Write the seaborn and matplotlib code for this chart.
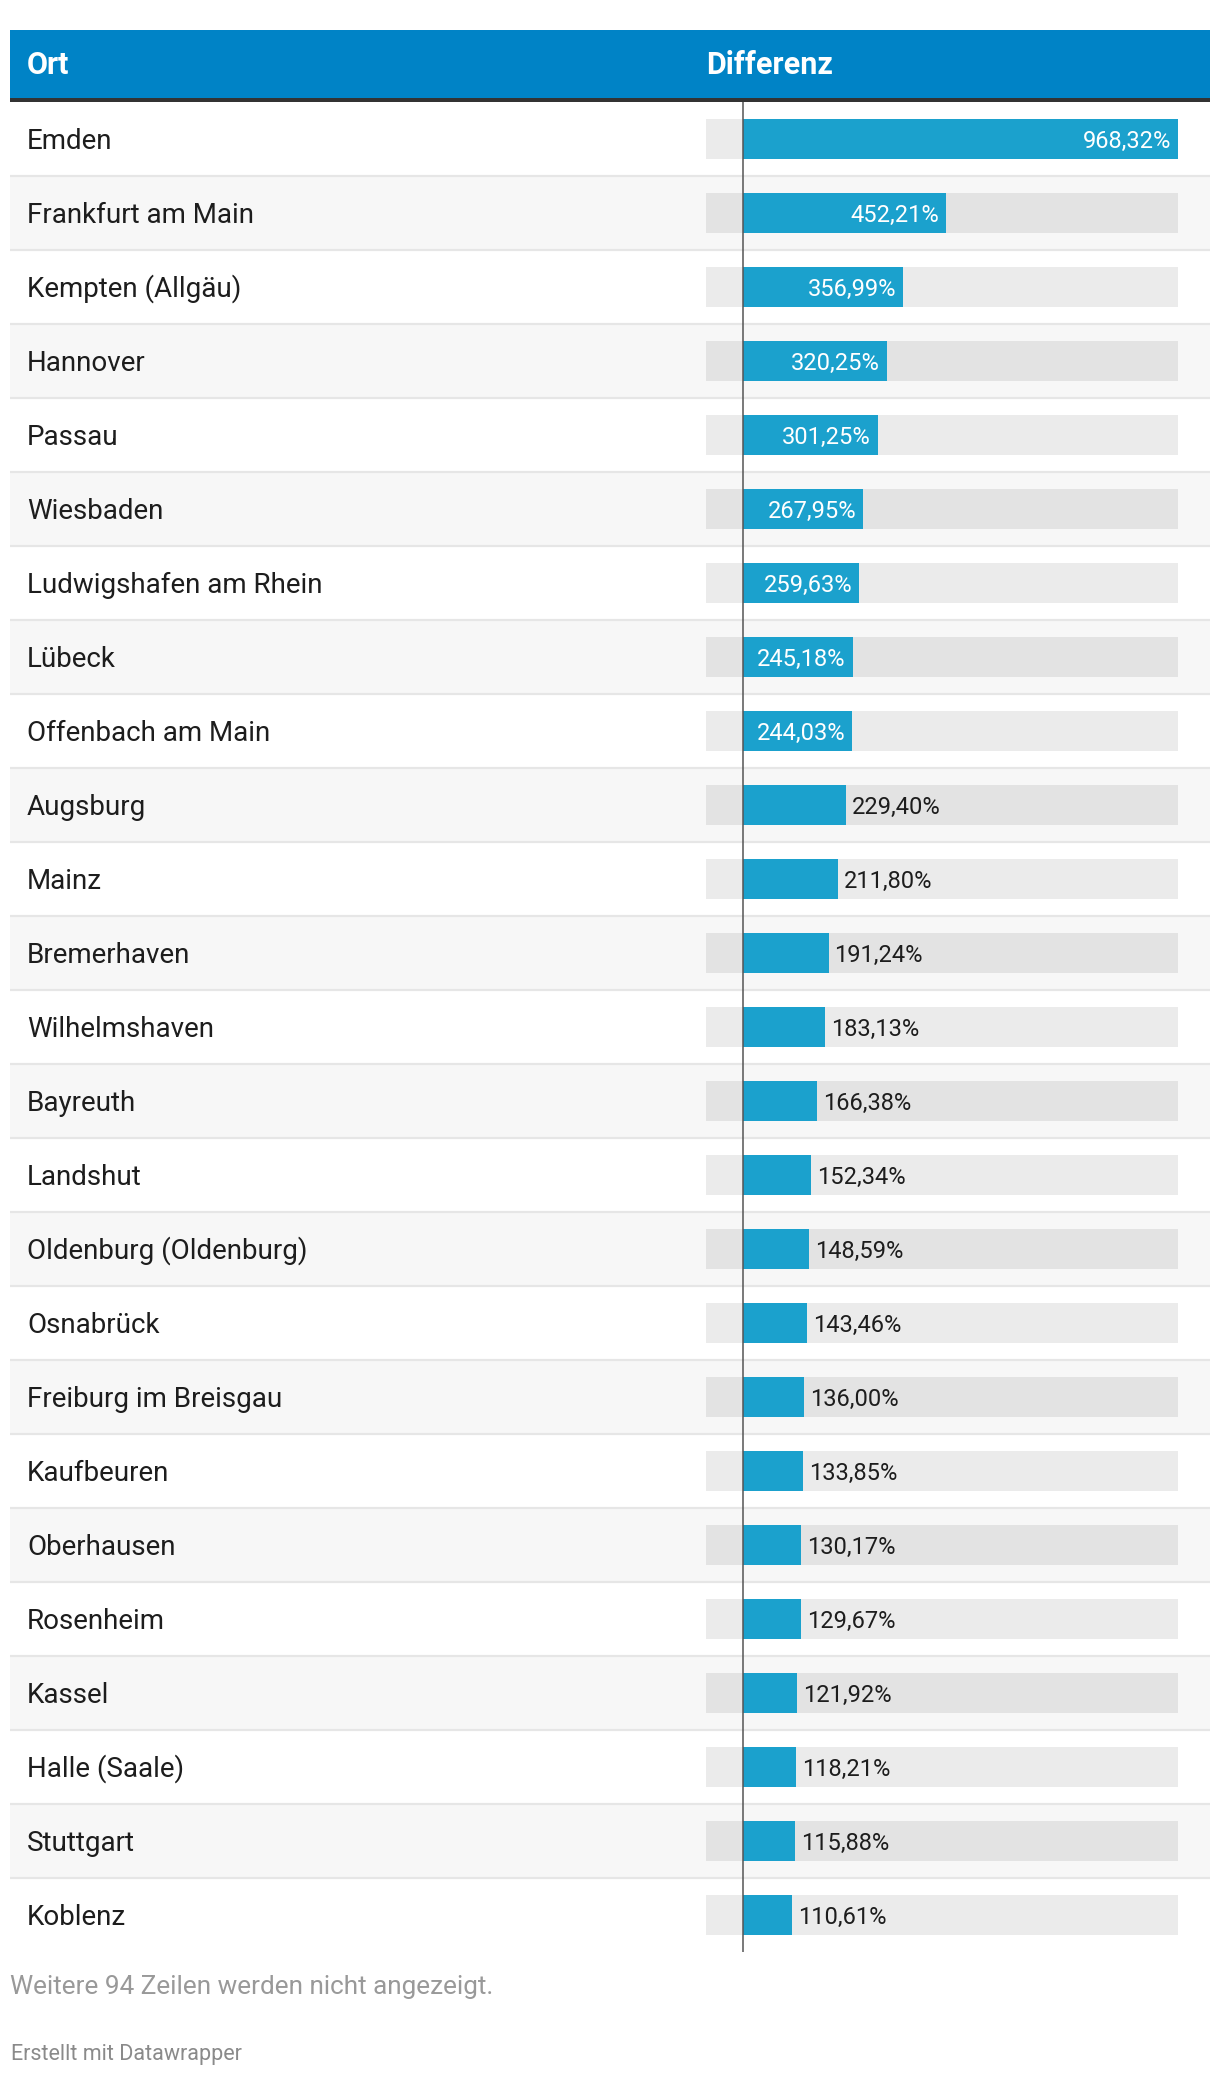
import matplotlib
matplotlib.use("Agg")
import matplotlib.pyplot as plt
import seaborn as sns
import pandas as pd
from matplotlib.patches import Rectangle

# ---------------- data ----------------
orte = ["Emden", "Frankfurt am Main", "Kempten (Allgäu)", "Hannover", "Passau",
        "Wiesbaden", "Ludwigshafen am Rhein", "Lübeck", "Offenbach am Main",
        "Augsburg", "Mainz", "Bremerhaven", "Wilhelmshaven", "Bayreuth",
        "Landshut", "Oldenburg (Oldenburg)", "Osnabrück", "Freiburg im Breisgau",
        "Kaufbeuren", "Oberhausen", "Rosenheim", "Kassel", "Halle (Saale)",
        "Stuttgart", "Koblenz"]
differenz = [968.32, 452.21, 356.99, 320.25, 301.25, 267.95, 259.63, 245.18,
             244.03, 229.40, 211.80, 191.24, 183.13, 166.38, 152.34, 148.59,
             143.46, 136.00, 133.85, 130.17, 129.67, 121.92, 118.21, 115.88,
             110.61]
x_min = -81.2          # lower end of the (hidden) value range
x_max = 968.32
header = ["Ort", "Differenz"]
note = "Weitere 94 Zeilen werden nicht angezeigt."
credit = "Erstellt mit Datawrapper"

df = pd.DataFrame({"Ort": orte, "Differenz": differenz})

# ---------------- style ----------------
sns.set_theme(style="white")
plt.rcParams["font.family"] = ["Roboto", "DejaVu Sans"]

W, H = 1220, 2076
fig = plt.figure(figsize=(W / 100, H / 100), dpi=100)
fig.patch.set_facecolor("white")

HEADER_BLUE = "#0083c6"
BAR_BLUE = "#1ba1cd"
TEXT = "#1d1d1d"

table_top = 102
row_h = 74
n = len(orte)
table_bottom = table_top + n * row_h

# pixel layout axes
lay = fig.add_axes([0, 0, 1, 1])
lay.set_xlim(0, W)
lay.set_ylim(H, 0)
lay.axis("off")

# header
lay.add_patch(Rectangle((10, 30), 1200, 68, color=HEADER_BLUE, lw=0))
lay.add_patch(Rectangle((10, 98), 1200, 4, color="#333333", lw=0))
lay.text(27, 74, header[0], color="white", fontsize=22, fontweight="bold",
         va="baseline", ha="left")
lay.text(706, 74, header[1], color="white", fontsize=22, fontweight="bold",
         va="baseline", ha="left")

# rows
for i, name in enumerate(orte):
    y0 = table_top + i * row_h
    if i % 2 == 1:
        lay.add_patch(Rectangle((10, y0), 1200, row_h, color="#f7f7f7", lw=0))
    if i > 0:
        lay.plot([10, 1210], [y0, y0], color="#e6e6e6", lw=1.6,
                 solid_capstyle="butt")
    lay.text(27, y0 + 37 + 10, name, color=TEXT, fontsize=20,
             va="baseline", ha="left")

# footer
lay.text(10, 1994, note, color="#999999", fontsize=18.8, va="baseline")
lay.text(11, 2060, credit, color="#8a8a8a", fontsize=15.5, va="baseline")

# bar axes
ax = fig.add_axes([706 / W, (H - table_bottom) / H, (1178 - 706) / W,
                   (table_bottom - table_top) / H])
ax.patch.set_alpha(0)
ax.barh(range(n), [x_max - x_min] * n, left=x_min, height=0.54,
        color="black", alpha=0.078, lw=0)
sns.barplot(data=df, x="Differenz", y="Ort", orient="h", color=BAR_BLUE,
            saturation=1, width=0.54, ax=ax, linewidth=0)
ax.set_xlim(x_min, x_max)
ax.set_ylim(n - 0.5, -0.5)
ax.axvline(0, color="#555555", lw=1.1)
ax.axis("off")

for i, v in enumerate(differenz):
    lbl = f"{v:.2f}".replace(".", ",") + "%"
    if v > 240:
        ax.annotate(lbl, (v, i), xytext=(-7, -9), textcoords="offset pixels",
                    ha="right", va="baseline", color="white", fontsize=17)
    else:
        ax.annotate(lbl, (v, i), xytext=(6, -9), textcoords="offset pixels",
                    ha="left", va="baseline", color=TEXT, fontsize=17)

fig.savefig("out.png", dpi=100, facecolor="white")
